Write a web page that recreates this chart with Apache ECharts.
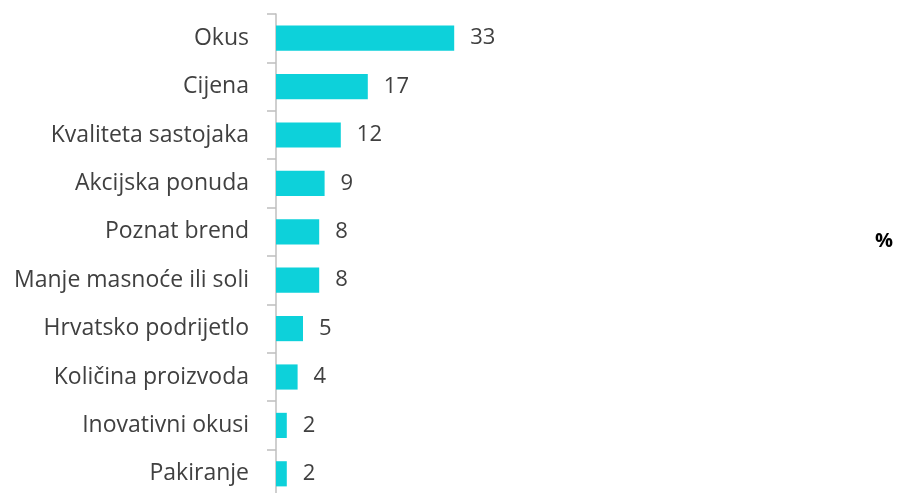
<!DOCTYPE html>
<html>
<head>
<meta charset="utf-8">
<script src="https://cdn.jsdelivr.net/npm/echarts@6/dist/echarts.min.js"></script>
<style>
  html, body { margin: 0; padding: 0; background: #fff; }
  #chart { width: 897px; height: 493px; }
</style>
</head>
<body>
<div id="chart"></div>
<script>
const categories = [
  "Okus", "Cijena", "Kvaliteta sastojaka", "Akcijska ponuda", "Poznat brend",
  "Manje masnoće ili soli", "Hrvatsko podrijetlo", "Količina proizvoda",
  "Inovativni okusi", "Pakiranje"
];
const values = [33, 17, 12, 9, 8, 8, 5, 4, 2, 2];
const unitLabel = "%";

const chart = echarts.init(document.getElementById("chart"));
const textColor = "#404040";
const font = "'Open Sans', Lato, sans-serif";

chart.setOption({
  animation: false,
  grid: { left: 276, top: 14, width: 216, height: 484, outerBoundsMode: "none", containLabel: false },
  xAxis: { type: "value", min: 0, max: 40, show: false },
  yAxis: {
    type: "category",
    data: categories,
    inverse: true,
    axisLine: { show: true, lineStyle: { color: "#bfbfbf", width: 1.5 } },
    axisTick: { show: true, length: 9, lineStyle: { color: "#bfbfbf", width: 1.5 } },
    axisLabel: { margin: 27, color: textColor, fontSize: 23, fontFamily: font }
  },
  series: [{
    type: "bar",
    data: values,
    barCategoryGap: "48%",
    itemStyle: { color: "#0dd1da" },
    label: {
      show: true, position: "right", distance: 16,
      color: textColor, fontSize: 22, fontFamily: font
    }
  }],
  graphic: [{
    type: "text", right: 4, top: 231,
    style: { text: unitLabel, fontSize: 20, fontWeight: "bold", fill: "#000", fontFamily: font }
  }]
});
</script>
</body>
</html>
